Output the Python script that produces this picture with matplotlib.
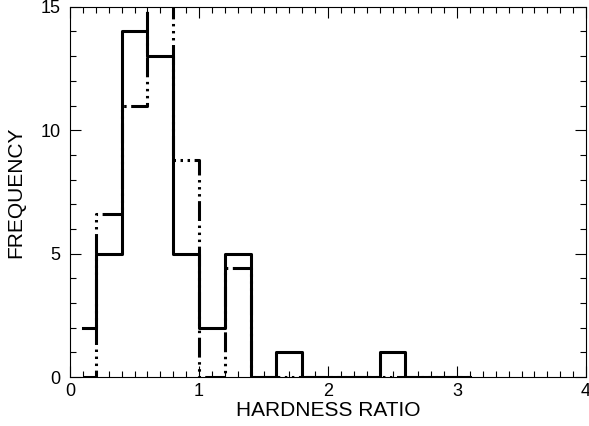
import matplotlib
matplotlib.use('Agg')
import matplotlib.pyplot as plt
from matplotlib.ticker import MultipleLocator

plt.rcParams['font.family'] = ['Liberation Sans', 'DejaVu Sans']

# bin centres (width 0.2)
centres = [0.1, 0.3, 0.5, 0.7, 0.9, 1.1, 1.3, 1.5, 1.7, 1.9,
           2.1, 2.3, 2.5, 2.7, 2.9, 3.1]
# observed counts (solid)
counts = [2, 5, 14, 13, 5, 2, 5, 0, 1, 0, 0, 0, 1, 0, 0, 0]
# comparison distribution (dash-dot-dot-dot)
model = [0, 6.6, 11, 17.6, 8.8, 0, 4.4, 0, 0, 0, 0, 0, 0, 0, 0, 0]

fig = plt.figure(figsize=(5.89, 4.26), dpi=100)
ax = fig.add_axes([0.119, 0.115, 0.876, 0.869])

ln, = ax.step(centres, model, where='mid', color='black', lw=2.2)
ln.set_dashes([6.5, 1.5, 0.8, 1.5, 0.8, 1.5, 0.8, 1.5])
ax.step(centres, counts, where='mid', color='black', lw=2.2)

ax.set_xlim(0, 4)
ax.set_ylim(0, 15)
ax.xaxis.set_major_locator(MultipleLocator(1))
ax.xaxis.set_minor_locator(MultipleLocator(0.1))
ax.yaxis.set_major_locator(MultipleLocator(5))
ax.yaxis.set_minor_locator(MultipleLocator(1))
ax.tick_params(which='both', direction='in', top=True, right=True,
               labelsize=13, width=0.8)
ax.tick_params(which='major', length=8)
ax.tick_params(which='minor', length=4.5)
ax.tick_params(axis='x', which='major', pad=4)
ax.tick_params(axis='y', which='major', pad=7)
for s in ax.spines.values():
    s.set_linewidth(0.8)

ax.set_xlabel('HARDNESS RATIO', fontsize=15)
ax.set_ylabel('FREQUENCY', fontsize=15)
ax.xaxis.set_label_coords(0.5, -0.066)
ax.yaxis.set_label_coords(-0.087, 0.5)

fig.savefig('out.png', dpi=100)
